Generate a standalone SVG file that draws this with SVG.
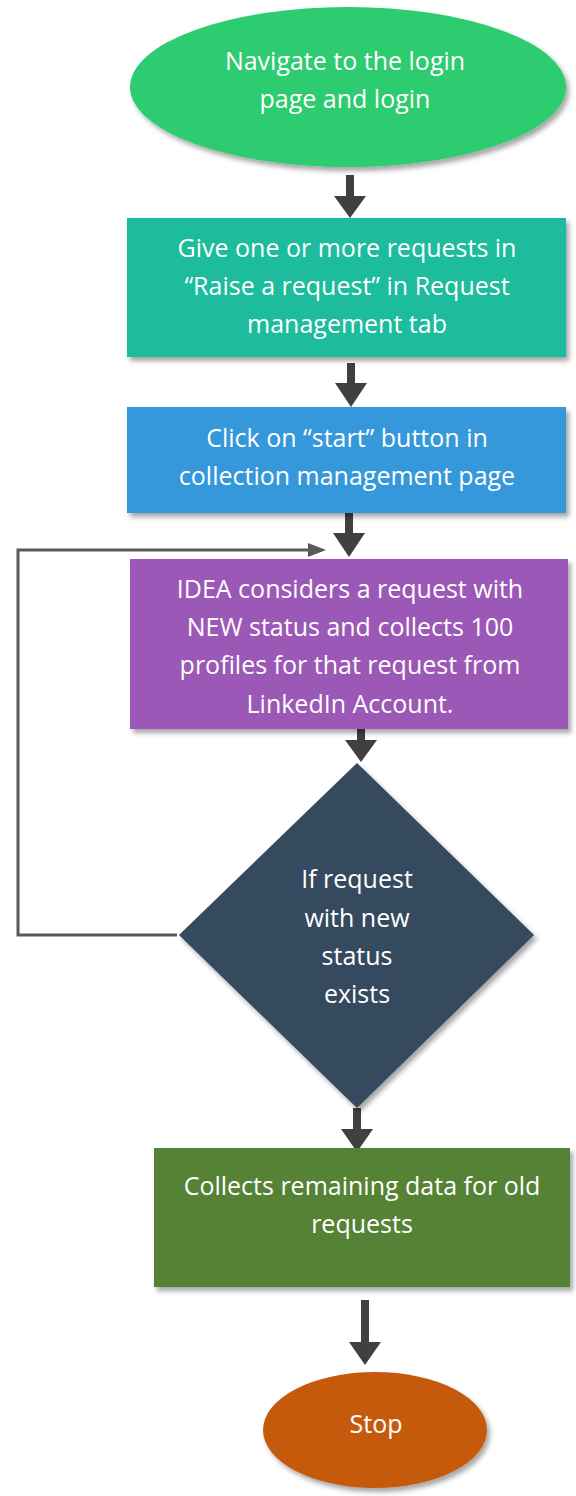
<svg xmlns="http://www.w3.org/2000/svg" width="576" height="1496" viewBox="0 0 576 1496">
<defs>
<style>
.t{font-family:"Open Sans","Noto Sans",sans-serif;font-size:25px;fill:#ffffff;text-anchor:middle}
.arr{fill:#404040}
.loop{fill:none;stroke:#595959;stroke-width:3}
</style>
<filter id="sh" x="-10%" y="-10%" width="125%" height="130%">
<feDropShadow dx="3" dy="4" stdDeviation="2.5" flood-color="#000" flood-opacity="0.35"/>
</filter>
</defs>
<rect width="576" height="1496" fill="#ffffff"/>
<g id="connectors">
<path class="arr" d="M346,175 h8 v21 h12 l-16,22 l-16,-22 h12 z"/>
<path class="arr" d="M347,363 h8 v20 h12 l-16,24 l-16,-24 h12 z"/>
<path class="arr" d="M345,513 h8 v20 h12 l-16,24 l-16,-24 h12 z"/>
<path class="arr" d="M357,719 h8 v21 h12 l-16,22 l-16,-22 h12 z"/>
<path class="arr" d="M353,1108 h8 v21 h12 l-16,23 l-16,-23 h12 z"/>
<path class="arr" d="M361,1300 h8 v42 h12 l-16,23 l-16,-23 h12 z"/>
<path class="loop" d="M177,935 H18 V550 H312"/>
<path d="M308,543 L326,550 L308,557 Z" fill="#595959"/>
</g>
<g id="start">
<ellipse cx="348" cy="87" rx="218" ry="80" fill="#2ECC71" filter="url(#sh)"/>
<text class="t" x="345" y="70">Navigate to the login</text>
<text class="t" x="345" y="108">page and login</text>
</g>
<g id="raise">
<rect x="127" y="218" width="439" height="139" fill="#1ABC9C" filter="url(#sh)"/>
<text class="t" x="347" y="257">Give one or more requests in</text>
<text class="t" x="347" y="295">“Raise a request” in Request</text>
<text class="t" x="347" y="333">management tab</text>
</g>
<g id="click">
<rect x="127" y="407" width="439" height="106" fill="#3498DB" filter="url(#sh)"/>
<text class="t" x="347" y="447">Click on “start” button in</text>
<text class="t" x="347" y="485">collection management page</text>
</g>
<g id="collect">
<rect x="130" y="559" width="438" height="170" fill="#9B59B6" filter="url(#sh)"/>
<text class="t" x="350" y="598">IDEA considers a request with</text>
<text class="t" x="350" y="636">NEW status and collects 100</text>
<text class="t" x="350" y="674">profiles for that request from</text>
<text class="t" x="350" y="713">LinkedIn Account.</text>
</g>
<g id="decision">
<path d="M357,763 L534,935 L357,1108 L179,935 Z" fill="#34495E" filter="url(#sh)"/>
<text class="t" x="357" y="888">If request</text>
<text class="t" x="357" y="927">with new</text>
<text class="t" x="357" y="965">status</text>
<text class="t" x="357" y="1003">exists</text>
</g>
<g id="remaining">
<rect x="154" y="1148" width="416" height="139" fill="#548235" filter="url(#sh)"/>
<text class="t" x="362" y="1195">Collects remaining data for old</text>
<text class="t" x="362" y="1233">requests</text>
</g>
<g id="stop">
<ellipse cx="375" cy="1430" rx="112" ry="58" fill="#C55A11" filter="url(#sh)"/>
<text class="t" x="376" y="1433">Stop</text>
</g>
</svg>
